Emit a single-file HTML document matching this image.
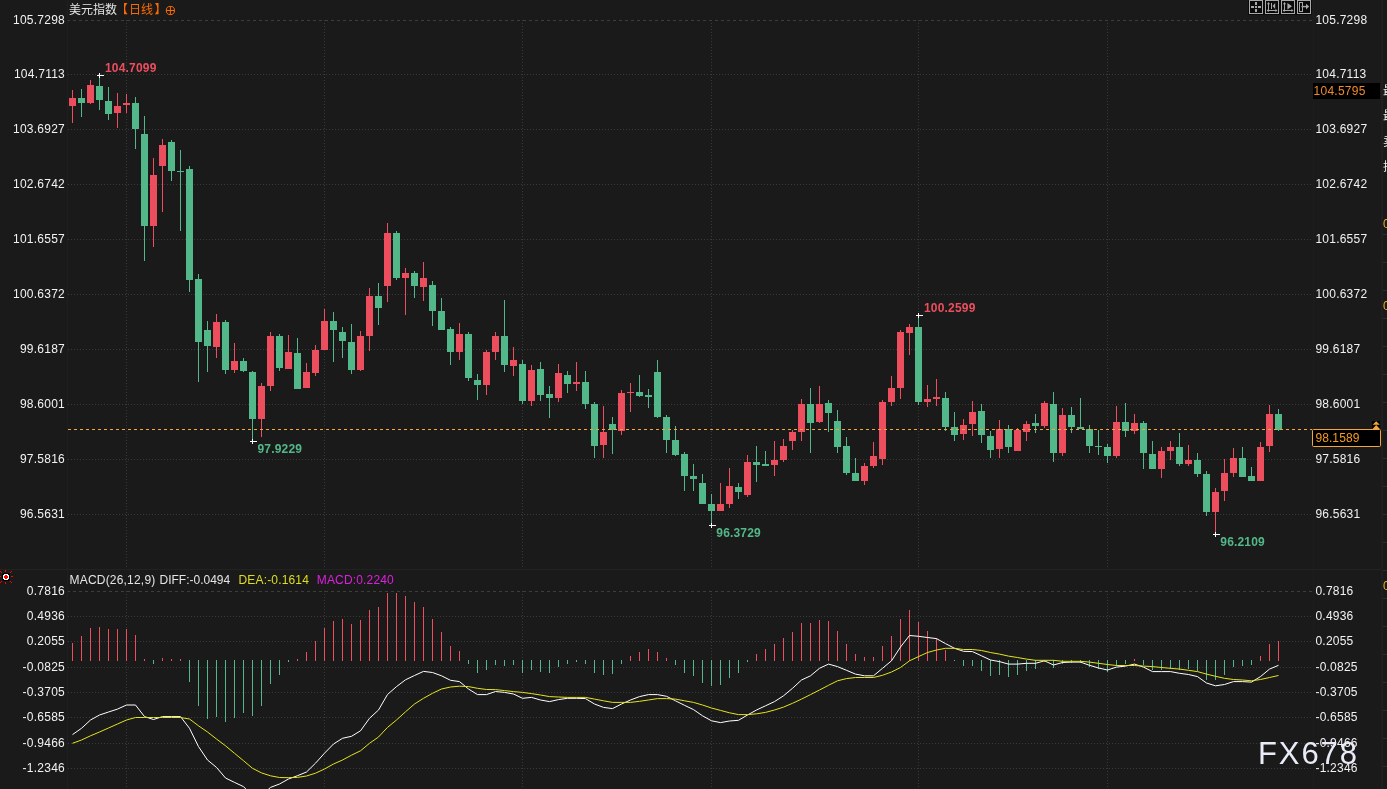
<!DOCTYPE html>
<html lang="zh"><head><meta charset="utf-8"><title>美元指数 日线</title>
<style>
html,body{margin:0;padding:0;background:#1a1a1a;}
body{width:1387px;height:789px;overflow:hidden;position:relative;font-family:"Liberation Sans","Noto Sans CJK SC",sans-serif;}
svg{position:absolute;left:0;top:0;display:block}
text{font-family:"Liberation Sans","Noto Sans CJK SC",sans-serif;font-size:12px}
.ax{fill:#f2f2f2;letter-spacing:0.24px}
.b{font-weight:bold;letter-spacing:0.18px}
.h{letter-spacing:0.16px}
</style></head><body>
<svg width="1387" height="789" viewBox="0 0 1387 789">
<rect width="1387" height="789" fill="#1a1a1a"/>

<g shape-rendering="crispEdges">
<rect x="67" y="0" width="1" height="789" fill="#1f1f1f"/>
<rect x="1313" y="0" width="1" height="789" fill="#1d1d1d"/>
<rect x="0" y="569" width="1382" height="1" fill="#222222"/>
<rect x="1381" y="0" width="2" height="789" fill="#1f1f1f"/>
<rect x="1383" y="170" width="4" height="1" fill="#2c2c2c"/>
<rect x="1383" y="234" width="4" height="1" fill="#2c2c2c"/>
<rect x="1383" y="262" width="4" height="1" fill="#2c2c2c"/>
<rect x="1383" y="290" width="4" height="1" fill="#2c2c2c"/>
<rect x="1383" y="318" width="4" height="1" fill="#2c2c2c"/>
<rect x="1383" y="346" width="4" height="1" fill="#2c2c2c"/>
<rect x="1383" y="374" width="4" height="1" fill="#2c2c2c"/>
<rect x="1383" y="402" width="4" height="1" fill="#2c2c2c"/>
<rect x="1383" y="430" width="4" height="1" fill="#2c2c2c"/>
<rect x="1383" y="458" width="4" height="1" fill="#2c2c2c"/>
<rect x="1383" y="486" width="4" height="1" fill="#2c2c2c"/>
<rect x="1383" y="514" width="4" height="1" fill="#2c2c2c"/>
<rect x="1383" y="542" width="4" height="1" fill="#2c2c2c"/>
<rect x="1383" y="570" width="4" height="1" fill="#2c2c2c"/>
<rect x="1383" y="598" width="4" height="1" fill="#2c2c2c"/>
<rect x="1383" y="626" width="4" height="1" fill="#2c2c2c"/>
<rect x="1383" y="654" width="4" height="1" fill="#2c2c2c"/>
<rect x="1383" y="682" width="4" height="1" fill="#2c2c2c"/>
<rect x="1383" y="710" width="4" height="1" fill="#2c2c2c"/>
<rect x="1383" y="738" width="4" height="1" fill="#2c2c2c"/>
<rect x="1383" y="766" width="4" height="1" fill="#2c2c2c"/>
</g>
<g stroke="#393939" stroke-width="1" shape-rendering="crispEdges" fill="none">
<line x1="68" x2="1312" y1="74.5" y2="74.5" stroke-dasharray="1 2"/>
<line x1="68" x2="1312" y1="129.5" y2="129.5" stroke-dasharray="1 2"/>
<line x1="68" x2="1312" y1="184.5" y2="184.5" stroke-dasharray="1 2"/>
<line x1="68" x2="1312" y1="239.5" y2="239.5" stroke-dasharray="1 2"/>
<line x1="68" x2="1312" y1="294.5" y2="294.5" stroke-dasharray="1 2"/>
<line x1="68" x2="1312" y1="349.5" y2="349.5" stroke-dasharray="1 2"/>
<line x1="68" x2="1312" y1="404.5" y2="404.5" stroke-dasharray="1 2"/>
<line x1="68" x2="1312" y1="459.5" y2="459.5" stroke-dasharray="1 2"/>
<line x1="68" x2="1312" y1="514.5" y2="514.5" stroke-dasharray="1 2"/>
<line x1="68" x2="1312" y1="616.5" y2="616.5" stroke-dasharray="1 2"/>
<line x1="68" x2="1312" y1="641.5" y2="641.5" stroke-dasharray="1 2"/>
<line x1="68" x2="1312" y1="667.5" y2="667.5" stroke-dasharray="1 2"/>
<line x1="68" x2="1312" y1="692.5" y2="692.5" stroke-dasharray="1 2"/>
<line x1="68" x2="1312" y1="717.5" y2="717.5" stroke-dasharray="1 2"/>
<line x1="68" x2="1312" y1="743.5" y2="743.5" stroke-dasharray="1 2"/>
<line x1="68" x2="1312" y1="768.5" y2="768.5" stroke-dasharray="1 2"/>
<line x1="126.5" x2="126.5" y1="20" y2="568" stroke-dasharray="1 2"/>
<line x1="126.5" x2="126.5" y1="591" y2="789" stroke-dasharray="1 2"/>
<line x1="324.5" x2="324.5" y1="20" y2="568" stroke-dasharray="1 2"/>
<line x1="324.5" x2="324.5" y1="591" y2="789" stroke-dasharray="1 2"/>
<line x1="522.5" x2="522.5" y1="20" y2="568" stroke-dasharray="1 2"/>
<line x1="522.5" x2="522.5" y1="591" y2="789" stroke-dasharray="1 2"/>
<line x1="711.5" x2="711.5" y1="20" y2="568" stroke-dasharray="1 2"/>
<line x1="711.5" x2="711.5" y1="591" y2="789" stroke-dasharray="1 2"/>
<line x1="918.5" x2="918.5" y1="20" y2="568" stroke-dasharray="1 2"/>
<line x1="918.5" x2="918.5" y1="591" y2="789" stroke-dasharray="1 2"/>
<line x1="1107.5" x2="1107.5" y1="20" y2="568" stroke-dasharray="1 2"/>
<line x1="1107.5" x2="1107.5" y1="591" y2="789" stroke-dasharray="1 2"/>
</g>
<g stroke="#3d3d3d" stroke-width="1" fill="none" shape-rendering="crispEdges">
<line x1="68" x2="1312" y1="20.5" y2="20.5" stroke-dasharray="3 3" stroke-dashoffset="1"/>
<line x1="68" x2="1312" y1="591.5" y2="591.5" stroke-dasharray="3 3" stroke-dashoffset="1"/>
</g>
<g shape-rendering="crispEdges">
<rect x="72" y="90" width="1" height="33" fill="#ec4e5e"/><rect x="69" y="98" width="7" height="8" fill="#ec4e5e"/>
<rect x="81" y="89" width="1" height="28" fill="#53b889"/><rect x="78" y="98" width="7" height="5" fill="#53b889"/>
<rect x="90" y="80" width="1" height="24" fill="#ec4e5e"/><rect x="87" y="85" width="7" height="18" fill="#ec4e5e"/>
<rect x="99" y="75" width="1" height="35" fill="#53b889"/><rect x="96" y="86" width="7" height="14" fill="#53b889"/>
<rect x="108" y="87" width="1" height="33" fill="#53b889"/><rect x="105" y="101" width="7" height="13" fill="#53b889"/>
<rect x="117" y="93" width="1" height="35" fill="#ec4e5e"/><rect x="114" y="106" width="7" height="7" fill="#ec4e5e"/>
<rect x="126" y="94" width="1" height="19" fill="#ec4e5e"/><rect x="123" y="103" width="7" height="2" fill="#ec4e5e"/>
<rect x="135" y="97" width="1" height="52" fill="#53b889"/><rect x="132" y="103" width="7" height="26" fill="#53b889"/>
<rect x="144" y="116" width="1" height="145" fill="#53b889"/><rect x="141" y="134" width="7" height="92" fill="#53b889"/>
<rect x="153" y="158" width="1" height="89" fill="#ec4e5e"/><rect x="150" y="175" width="7" height="51" fill="#ec4e5e"/>
<rect x="162" y="139" width="1" height="73" fill="#ec4e5e"/><rect x="159" y="145" width="7" height="21" fill="#ec4e5e"/>
<rect x="171" y="140" width="1" height="41" fill="#53b889"/><rect x="168" y="142" width="7" height="29" fill="#53b889"/>
<rect x="180" y="150" width="1" height="81" fill="#53b889"/><rect x="177" y="171" width="7" height="1" fill="#53b889"/>
<rect x="189" y="166" width="1" height="126" fill="#53b889"/><rect x="186" y="169" width="7" height="111" fill="#53b889"/>
<rect x="198" y="274" width="1" height="108" fill="#53b889"/><rect x="195" y="279" width="7" height="63" fill="#53b889"/>
<rect x="207" y="321" width="1" height="51" fill="#53b889"/><rect x="204" y="330" width="7" height="16" fill="#53b889"/>
<rect x="216" y="314" width="1" height="44" fill="#ec4e5e"/><rect x="213" y="322" width="7" height="25" fill="#ec4e5e"/>
<rect x="225" y="320" width="1" height="54" fill="#53b889"/><rect x="222" y="322" width="7" height="48" fill="#53b889"/>
<rect x="234" y="343" width="1" height="30" fill="#ec4e5e"/><rect x="231" y="361" width="7" height="9" fill="#ec4e5e"/>
<rect x="243" y="358" width="1" height="14" fill="#53b889"/><rect x="240" y="361" width="7" height="10" fill="#53b889"/>
<rect x="252" y="371" width="1" height="70" fill="#53b889"/><rect x="249" y="372" width="7" height="47" fill="#53b889"/>
<rect x="261" y="383" width="1" height="54" fill="#ec4e5e"/><rect x="258" y="386" width="7" height="33" fill="#ec4e5e"/>
<rect x="270" y="332" width="1" height="59" fill="#ec4e5e"/><rect x="267" y="336" width="7" height="50" fill="#ec4e5e"/>
<rect x="279" y="334" width="1" height="37" fill="#53b889"/><rect x="276" y="336" width="7" height="32" fill="#53b889"/>
<rect x="288" y="335" width="1" height="34" fill="#ec4e5e"/><rect x="285" y="352" width="7" height="17" fill="#ec4e5e"/>
<rect x="297" y="338" width="1" height="51" fill="#53b889"/><rect x="294" y="353" width="7" height="36" fill="#53b889"/>
<rect x="306" y="363" width="1" height="25" fill="#ec4e5e"/><rect x="303" y="372" width="7" height="16" fill="#ec4e5e"/>
<rect x="315" y="345" width="1" height="31" fill="#ec4e5e"/><rect x="312" y="350" width="7" height="23" fill="#ec4e5e"/>
<rect x="324" y="309" width="1" height="41" fill="#ec4e5e"/><rect x="321" y="321" width="7" height="29" fill="#ec4e5e"/>
<rect x="333" y="312" width="1" height="50" fill="#53b889"/><rect x="330" y="321" width="7" height="9" fill="#53b889"/>
<rect x="342" y="327" width="1" height="31" fill="#53b889"/><rect x="339" y="332" width="7" height="9" fill="#53b889"/>
<rect x="351" y="324" width="1" height="50" fill="#53b889"/><rect x="348" y="342" width="7" height="28" fill="#53b889"/>
<rect x="360" y="331" width="1" height="40" fill="#ec4e5e"/><rect x="357" y="336" width="7" height="34" fill="#ec4e5e"/>
<rect x="369" y="288" width="1" height="63" fill="#ec4e5e"/><rect x="366" y="296" width="7" height="40" fill="#ec4e5e"/>
<rect x="378" y="283" width="1" height="42" fill="#53b889"/><rect x="375" y="296" width="7" height="12" fill="#53b889"/>
<rect x="387" y="223" width="1" height="79" fill="#ec4e5e"/><rect x="384" y="233" width="7" height="53" fill="#ec4e5e"/>
<rect x="396" y="231" width="1" height="49" fill="#53b889"/><rect x="393" y="233" width="7" height="45" fill="#53b889"/>
<rect x="405" y="268" width="1" height="47" fill="#ec4e5e"/><rect x="402" y="273" width="7" height="5" fill="#ec4e5e"/>
<rect x="414" y="271" width="1" height="27" fill="#53b889"/><rect x="411" y="273" width="7" height="13" fill="#53b889"/>
<rect x="423" y="262" width="1" height="39" fill="#ec4e5e"/><rect x="420" y="278" width="7" height="9" fill="#ec4e5e"/>
<rect x="432" y="281" width="1" height="45" fill="#53b889"/><rect x="429" y="285" width="7" height="26" fill="#53b889"/>
<rect x="441" y="298" width="1" height="32" fill="#53b889"/><rect x="438" y="311" width="7" height="19" fill="#53b889"/>
<rect x="450" y="327" width="1" height="38" fill="#53b889"/><rect x="447" y="329" width="7" height="23" fill="#53b889"/>
<rect x="459" y="323" width="1" height="37" fill="#ec4e5e"/><rect x="456" y="334" width="7" height="18" fill="#ec4e5e"/>
<rect x="468" y="332" width="1" height="49" fill="#53b889"/><rect x="465" y="334" width="7" height="44" fill="#53b889"/>
<rect x="477" y="374" width="1" height="26" fill="#53b889"/><rect x="474" y="380" width="7" height="5" fill="#53b889"/>
<rect x="486" y="350" width="1" height="45" fill="#ec4e5e"/><rect x="483" y="352" width="7" height="33" fill="#ec4e5e"/>
<rect x="495" y="332" width="1" height="28" fill="#ec4e5e"/><rect x="492" y="336" width="7" height="16" fill="#ec4e5e"/>
<rect x="504" y="300" width="1" height="72" fill="#53b889"/><rect x="501" y="336" width="7" height="29" fill="#53b889"/>
<rect x="513" y="347" width="1" height="29" fill="#ec4e5e"/><rect x="510" y="360" width="7" height="6" fill="#ec4e5e"/>
<rect x="522" y="360" width="1" height="44" fill="#53b889"/><rect x="519" y="364" width="7" height="37" fill="#53b889"/>
<rect x="531" y="365" width="1" height="41" fill="#ec4e5e"/><rect x="528" y="370" width="7" height="31" fill="#ec4e5e"/>
<rect x="540" y="362" width="1" height="39" fill="#53b889"/><rect x="537" y="369" width="7" height="26" fill="#53b889"/>
<rect x="549" y="386" width="1" height="32" fill="#53b889"/><rect x="546" y="394" width="7" height="4" fill="#53b889"/>
<rect x="558" y="364" width="1" height="38" fill="#ec4e5e"/><rect x="555" y="373" width="7" height="25" fill="#ec4e5e"/>
<rect x="567" y="371" width="1" height="22" fill="#53b889"/><rect x="564" y="375" width="7" height="9" fill="#53b889"/>
<rect x="576" y="362" width="1" height="29" fill="#ec4e5e"/><rect x="573" y="382" width="7" height="2" fill="#ec4e5e"/>
<rect x="585" y="371" width="1" height="38" fill="#53b889"/><rect x="582" y="382" width="7" height="22" fill="#53b889"/>
<rect x="594" y="402" width="1" height="56" fill="#53b889"/><rect x="591" y="404" width="7" height="42" fill="#53b889"/>
<rect x="603" y="406" width="1" height="52" fill="#ec4e5e"/><rect x="600" y="432" width="7" height="13" fill="#ec4e5e"/>
<rect x="612" y="417" width="1" height="37" fill="#53b889"/><rect x="609" y="424" width="7" height="6" fill="#53b889"/>
<rect x="621" y="390" width="1" height="45" fill="#ec4e5e"/><rect x="618" y="393" width="7" height="38" fill="#ec4e5e"/>
<rect x="630" y="383" width="1" height="29" fill="#ec4e5e"/><rect x="627" y="392" width="7" height="1" fill="#ec4e5e"/>
<rect x="639" y="375" width="1" height="22" fill="#53b889"/><rect x="636" y="392" width="7" height="4" fill="#53b889"/>
<rect x="648" y="389" width="1" height="19" fill="#53b889"/><rect x="645" y="395" width="7" height="2" fill="#53b889"/>
<rect x="657" y="360" width="1" height="58" fill="#53b889"/><rect x="654" y="372" width="7" height="45" fill="#53b889"/>
<rect x="666" y="415" width="1" height="38" fill="#53b889"/><rect x="663" y="417" width="7" height="23" fill="#53b889"/>
<rect x="675" y="426" width="1" height="30" fill="#53b889"/><rect x="672" y="440" width="7" height="15" fill="#53b889"/>
<rect x="684" y="452" width="1" height="39" fill="#53b889"/><rect x="681" y="454" width="7" height="22" fill="#53b889"/>
<rect x="693" y="464" width="1" height="27" fill="#53b889"/><rect x="690" y="476" width="7" height="3" fill="#53b889"/>
<rect x="702" y="474" width="1" height="30" fill="#53b889"/><rect x="699" y="483" width="7" height="21" fill="#53b889"/>
<rect x="711" y="494" width="1" height="31" fill="#53b889"/><rect x="708" y="504" width="7" height="7" fill="#53b889"/>
<rect x="720" y="483" width="1" height="28" fill="#ec4e5e"/><rect x="717" y="504" width="7" height="7" fill="#ec4e5e"/>
<rect x="729" y="468" width="1" height="40" fill="#ec4e5e"/><rect x="726" y="486" width="7" height="18" fill="#ec4e5e"/>
<rect x="738" y="483" width="1" height="16" fill="#53b889"/><rect x="735" y="487" width="7" height="5" fill="#53b889"/>
<rect x="747" y="455" width="1" height="42" fill="#ec4e5e"/><rect x="744" y="462" width="7" height="33" fill="#ec4e5e"/>
<rect x="756" y="446" width="1" height="36" fill="#53b889"/><rect x="753" y="462" width="7" height="3" fill="#53b889"/>
<rect x="765" y="451" width="1" height="15" fill="#53b889"/><rect x="762" y="464" width="7" height="2" fill="#53b889"/>
<rect x="774" y="441" width="1" height="35" fill="#ec4e5e"/><rect x="771" y="460" width="7" height="5" fill="#ec4e5e"/>
<rect x="783" y="439" width="1" height="23" fill="#ec4e5e"/><rect x="780" y="446" width="7" height="14" fill="#ec4e5e"/>
<rect x="792" y="430" width="1" height="20" fill="#ec4e5e"/><rect x="789" y="432" width="7" height="9" fill="#ec4e5e"/>
<rect x="801" y="399" width="1" height="42" fill="#ec4e5e"/><rect x="798" y="404" width="7" height="28" fill="#ec4e5e"/>
<rect x="810" y="388" width="1" height="65" fill="#53b889"/><rect x="807" y="404" width="7" height="19" fill="#53b889"/>
<rect x="819" y="386" width="1" height="37" fill="#ec4e5e"/><rect x="816" y="404" width="7" height="18" fill="#ec4e5e"/>
<rect x="828" y="400" width="1" height="32" fill="#53b889"/><rect x="825" y="403" width="7" height="10" fill="#53b889"/>
<rect x="837" y="410" width="1" height="43" fill="#53b889"/><rect x="834" y="421" width="7" height="26" fill="#53b889"/>
<rect x="846" y="437" width="1" height="38" fill="#53b889"/><rect x="843" y="446" width="7" height="27" fill="#53b889"/>
<rect x="855" y="458" width="1" height="23" fill="#53b889"/><rect x="852" y="473" width="7" height="8" fill="#53b889"/>
<rect x="864" y="463" width="1" height="22" fill="#ec4e5e"/><rect x="861" y="466" width="7" height="15" fill="#ec4e5e"/>
<rect x="873" y="442" width="1" height="26" fill="#ec4e5e"/><rect x="870" y="456" width="7" height="10" fill="#ec4e5e"/>
<rect x="882" y="400" width="1" height="65" fill="#ec4e5e"/><rect x="879" y="402" width="7" height="57" fill="#ec4e5e"/>
<rect x="891" y="376" width="1" height="30" fill="#ec4e5e"/><rect x="888" y="388" width="7" height="14" fill="#ec4e5e"/>
<rect x="900" y="330" width="1" height="69" fill="#ec4e5e"/><rect x="897" y="332" width="7" height="56" fill="#ec4e5e"/>
<rect x="909" y="324" width="1" height="31" fill="#ec4e5e"/><rect x="906" y="327" width="7" height="6" fill="#ec4e5e"/>
<rect x="918" y="315" width="1" height="90" fill="#53b889"/><rect x="915" y="327" width="7" height="75" fill="#53b889"/>
<rect x="927" y="385" width="1" height="22" fill="#ec4e5e"/><rect x="924" y="399" width="7" height="3" fill="#ec4e5e"/>
<rect x="936" y="379" width="1" height="27" fill="#ec4e5e"/><rect x="933" y="397" width="7" height="2" fill="#ec4e5e"/>
<rect x="945" y="392" width="1" height="39" fill="#53b889"/><rect x="942" y="398" width="7" height="29" fill="#53b889"/>
<rect x="954" y="412" width="1" height="29" fill="#53b889"/><rect x="951" y="427" width="7" height="8" fill="#53b889"/>
<rect x="963" y="419" width="1" height="21" fill="#ec4e5e"/><rect x="960" y="425" width="7" height="9" fill="#ec4e5e"/>
<rect x="972" y="401" width="1" height="35" fill="#ec4e5e"/><rect x="969" y="412" width="7" height="12" fill="#ec4e5e"/>
<rect x="981" y="404" width="1" height="39" fill="#53b889"/><rect x="978" y="411" width="7" height="24" fill="#53b889"/>
<rect x="990" y="431" width="1" height="27" fill="#53b889"/><rect x="987" y="436" width="7" height="14" fill="#53b889"/>
<rect x="999" y="420" width="1" height="38" fill="#ec4e5e"/><rect x="996" y="429" width="7" height="20" fill="#ec4e5e"/>
<rect x="1008" y="425" width="1" height="28" fill="#53b889"/><rect x="1005" y="429" width="7" height="18" fill="#53b889"/>
<rect x="1017" y="428" width="1" height="23" fill="#ec4e5e"/><rect x="1014" y="430" width="7" height="21" fill="#ec4e5e"/>
<rect x="1026" y="421" width="1" height="20" fill="#ec4e5e"/><rect x="1023" y="424" width="7" height="8" fill="#ec4e5e"/>
<rect x="1035" y="414" width="1" height="19" fill="#53b889"/><rect x="1032" y="423" width="7" height="3" fill="#53b889"/>
<rect x="1044" y="401" width="1" height="27" fill="#ec4e5e"/><rect x="1041" y="403" width="7" height="23" fill="#ec4e5e"/>
<rect x="1053" y="392" width="1" height="70" fill="#53b889"/><rect x="1050" y="404" width="7" height="49" fill="#53b889"/>
<rect x="1062" y="408" width="1" height="48" fill="#ec4e5e"/><rect x="1059" y="415" width="7" height="38" fill="#ec4e5e"/>
<rect x="1071" y="407" width="1" height="26" fill="#53b889"/><rect x="1068" y="415" width="7" height="12" fill="#53b889"/>
<rect x="1080" y="398" width="1" height="31" fill="#53b889"/><rect x="1077" y="427" width="7" height="2" fill="#53b889"/>
<rect x="1089" y="425" width="1" height="28" fill="#53b889"/><rect x="1086" y="429" width="7" height="17" fill="#53b889"/>
<rect x="1098" y="430" width="1" height="25" fill="#53b889"/><rect x="1095" y="446" width="7" height="1" fill="#53b889"/>
<rect x="1107" y="444" width="1" height="19" fill="#53b889"/><rect x="1104" y="447" width="7" height="9" fill="#53b889"/>
<rect x="1116" y="406" width="1" height="52" fill="#ec4e5e"/><rect x="1113" y="422" width="7" height="34" fill="#ec4e5e"/>
<rect x="1125" y="403" width="1" height="34" fill="#53b889"/><rect x="1122" y="422" width="7" height="9" fill="#53b889"/>
<rect x="1134" y="414" width="1" height="20" fill="#ec4e5e"/><rect x="1131" y="423" width="7" height="8" fill="#ec4e5e"/>
<rect x="1143" y="421" width="1" height="48" fill="#53b889"/><rect x="1140" y="423" width="7" height="30" fill="#53b889"/>
<rect x="1152" y="441" width="1" height="28" fill="#53b889"/><rect x="1149" y="454" width="7" height="15" fill="#53b889"/>
<rect x="1161" y="447" width="1" height="31" fill="#ec4e5e"/><rect x="1158" y="451" width="7" height="18" fill="#ec4e5e"/>
<rect x="1170" y="441" width="1" height="19" fill="#ec4e5e"/><rect x="1167" y="447" width="7" height="4" fill="#ec4e5e"/>
<rect x="1179" y="433" width="1" height="33" fill="#53b889"/><rect x="1176" y="447" width="7" height="17" fill="#53b889"/>
<rect x="1188" y="445" width="1" height="21" fill="#ec4e5e"/><rect x="1185" y="460" width="7" height="4" fill="#ec4e5e"/>
<rect x="1197" y="453" width="1" height="24" fill="#53b889"/><rect x="1194" y="460" width="7" height="14" fill="#53b889"/>
<rect x="1206" y="471" width="1" height="45" fill="#53b889"/><rect x="1203" y="474" width="7" height="38" fill="#53b889"/>
<rect x="1215" y="488" width="1" height="46" fill="#ec4e5e"/><rect x="1212" y="492" width="7" height="20" fill="#ec4e5e"/>
<rect x="1224" y="459" width="1" height="42" fill="#ec4e5e"/><rect x="1221" y="473" width="7" height="18" fill="#ec4e5e"/>
<rect x="1233" y="448" width="1" height="29" fill="#ec4e5e"/><rect x="1230" y="458" width="7" height="15" fill="#ec4e5e"/>
<rect x="1242" y="447" width="1" height="30" fill="#53b889"/><rect x="1239" y="458" width="7" height="19" fill="#53b889"/>
<rect x="1251" y="467" width="1" height="14" fill="#53b889"/><rect x="1248" y="476" width="7" height="5" fill="#53b889"/>
<rect x="1260" y="442" width="1" height="39" fill="#ec4e5e"/><rect x="1257" y="447" width="7" height="34" fill="#ec4e5e"/>
<rect x="1269" y="405" width="1" height="47" fill="#ec4e5e"/><rect x="1266" y="414" width="7" height="32" fill="#ec4e5e"/>
<rect x="1278" y="409" width="1" height="22" fill="#53b889"/><rect x="1275" y="414" width="7" height="16" fill="#53b889"/>
</g>
<line x1="68" x2="1312" y1="429.5" y2="429.5" stroke="#f4a63a" stroke-width="1" stroke-dasharray="3 3" shape-rendering="crispEdges"/>
<g shape-rendering="crispEdges">
<rect x="72" y="643" width="1" height="18" fill="#ec4e5e"/>
<rect x="81" y="636" width="1" height="25" fill="#ec4e5e"/>
<rect x="90" y="628" width="1" height="33" fill="#ec4e5e"/>
<rect x="99" y="627" width="1" height="34" fill="#ec4e5e"/>
<rect x="108" y="629" width="1" height="32" fill="#ec4e5e"/>
<rect x="117" y="629" width="1" height="32" fill="#ec4e5e"/>
<rect x="126" y="629" width="1" height="32" fill="#ec4e5e"/>
<rect x="135" y="635" width="1" height="26" fill="#ec4e5e"/>
<rect x="144" y="659" width="1" height="2" fill="#ec4e5e"/>
<rect x="153" y="660" width="1" height="4" fill="#53b889"/>
<rect x="162" y="658" width="1" height="3" fill="#ec4e5e"/>
<rect x="171" y="659" width="1" height="2" fill="#ec4e5e"/>
<rect x="180" y="659" width="1" height="2" fill="#ec4e5e"/>
<rect x="189" y="660" width="1" height="22" fill="#53b889"/>
<rect x="198" y="660" width="1" height="46" fill="#53b889"/>
<rect x="207" y="660" width="1" height="59" fill="#53b889"/>
<rect x="216" y="660" width="1" height="57" fill="#53b889"/>
<rect x="225" y="660" width="1" height="62" fill="#53b889"/>
<rect x="234" y="660" width="1" height="58" fill="#53b889"/>
<rect x="243" y="660" width="1" height="53" fill="#53b889"/>
<rect x="252" y="660" width="1" height="56" fill="#53b889"/>
<rect x="261" y="660" width="1" height="46" fill="#53b889"/>
<rect x="270" y="660" width="1" height="24" fill="#53b889"/>
<rect x="279" y="660" width="1" height="15" fill="#53b889"/>
<rect x="288" y="660" width="1" height="2" fill="#53b889"/>
<rect x="297" y="659" width="1" height="2" fill="#ec4e5e"/>
<rect x="306" y="652" width="1" height="9" fill="#ec4e5e"/>
<rect x="315" y="641" width="1" height="20" fill="#ec4e5e"/>
<rect x="324" y="628" width="1" height="33" fill="#ec4e5e"/>
<rect x="333" y="621" width="1" height="40" fill="#ec4e5e"/>
<rect x="342" y="619" width="1" height="42" fill="#ec4e5e"/>
<rect x="351" y="624" width="1" height="37" fill="#ec4e5e"/>
<rect x="360" y="620" width="1" height="41" fill="#ec4e5e"/>
<rect x="369" y="610" width="1" height="51" fill="#ec4e5e"/>
<rect x="378" y="607" width="1" height="54" fill="#ec4e5e"/>
<rect x="387" y="593" width="1" height="68" fill="#ec4e5e"/>
<rect x="396" y="593" width="1" height="68" fill="#ec4e5e"/>
<rect x="405" y="596" width="1" height="65" fill="#ec4e5e"/>
<rect x="414" y="602" width="1" height="59" fill="#ec4e5e"/>
<rect x="423" y="607" width="1" height="54" fill="#ec4e5e"/>
<rect x="432" y="619" width="1" height="42" fill="#ec4e5e"/>
<rect x="441" y="632" width="1" height="29" fill="#ec4e5e"/>
<rect x="450" y="646" width="1" height="15" fill="#ec4e5e"/>
<rect x="459" y="651" width="1" height="10" fill="#ec4e5e"/>
<rect x="468" y="660" width="1" height="4" fill="#53b889"/>
<rect x="477" y="660" width="1" height="13" fill="#53b889"/>
<rect x="486" y="660" width="1" height="10" fill="#53b889"/>
<rect x="495" y="660" width="1" height="5" fill="#53b889"/>
<rect x="504" y="660" width="1" height="6" fill="#53b889"/>
<rect x="513" y="660" width="1" height="5" fill="#53b889"/>
<rect x="522" y="660" width="1" height="13" fill="#53b889"/>
<rect x="531" y="660" width="1" height="10" fill="#53b889"/>
<rect x="540" y="660" width="1" height="12" fill="#53b889"/>
<rect x="549" y="660" width="1" height="13" fill="#53b889"/>
<rect x="558" y="660" width="1" height="7" fill="#53b889"/>
<rect x="567" y="660" width="1" height="4" fill="#53b889"/>
<rect x="576" y="660" width="1" height="2" fill="#53b889"/>
<rect x="585" y="660" width="1" height="4" fill="#53b889"/>
<rect x="594" y="660" width="1" height="13" fill="#53b889"/>
<rect x="603" y="660" width="1" height="15" fill="#53b889"/>
<rect x="612" y="660" width="1" height="14" fill="#53b889"/>
<rect x="621" y="660" width="1" height="4" fill="#53b889"/>
<rect x="630" y="656" width="1" height="5" fill="#ec4e5e"/>
<rect x="639" y="652" width="1" height="9" fill="#ec4e5e"/>
<rect x="648" y="649" width="1" height="12" fill="#ec4e5e"/>
<rect x="657" y="652" width="1" height="9" fill="#ec4e5e"/>
<rect x="666" y="658" width="1" height="3" fill="#ec4e5e"/>
<rect x="675" y="660" width="1" height="5" fill="#53b889"/>
<rect x="684" y="660" width="1" height="13" fill="#53b889"/>
<rect x="693" y="660" width="1" height="16" fill="#53b889"/>
<rect x="702" y="660" width="1" height="23" fill="#53b889"/>
<rect x="711" y="660" width="1" height="26" fill="#53b889"/>
<rect x="720" y="660" width="1" height="25" fill="#53b889"/>
<rect x="729" y="660" width="1" height="18" fill="#53b889"/>
<rect x="738" y="660" width="1" height="13" fill="#53b889"/>
<rect x="747" y="660" width="1" height="2" fill="#53b889"/>
<rect x="756" y="654" width="1" height="7" fill="#ec4e5e"/>
<rect x="765" y="649" width="1" height="12" fill="#ec4e5e"/>
<rect x="774" y="644" width="1" height="17" fill="#ec4e5e"/>
<rect x="783" y="638" width="1" height="23" fill="#ec4e5e"/>
<rect x="792" y="632" width="1" height="29" fill="#ec4e5e"/>
<rect x="801" y="623" width="1" height="38" fill="#ec4e5e"/>
<rect x="810" y="623" width="1" height="38" fill="#ec4e5e"/>
<rect x="819" y="620" width="1" height="41" fill="#ec4e5e"/>
<rect x="828" y="621" width="1" height="40" fill="#ec4e5e"/>
<rect x="837" y="631" width="1" height="30" fill="#ec4e5e"/>
<rect x="846" y="644" width="1" height="17" fill="#ec4e5e"/>
<rect x="855" y="654" width="1" height="7" fill="#ec4e5e"/>
<rect x="864" y="657" width="1" height="4" fill="#ec4e5e"/>
<rect x="873" y="657" width="1" height="4" fill="#ec4e5e"/>
<rect x="882" y="646" width="1" height="15" fill="#ec4e5e"/>
<rect x="891" y="636" width="1" height="25" fill="#ec4e5e"/>
<rect x="900" y="619" width="1" height="42" fill="#ec4e5e"/>
<rect x="909" y="610" width="1" height="51" fill="#ec4e5e"/>
<rect x="918" y="622" width="1" height="39" fill="#ec4e5e"/>
<rect x="927" y="631" width="1" height="30" fill="#ec4e5e"/>
<rect x="936" y="638" width="1" height="23" fill="#ec4e5e"/>
<rect x="945" y="650" width="1" height="11" fill="#ec4e5e"/>
<rect x="954" y="660" width="1" height="1" fill="#53b889"/>
<rect x="963" y="660" width="1" height="6" fill="#53b889"/>
<rect x="972" y="660" width="1" height="6" fill="#53b889"/>
<rect x="981" y="660" width="1" height="11" fill="#53b889"/>
<rect x="990" y="660" width="1" height="16" fill="#53b889"/>
<rect x="999" y="660" width="1" height="15" fill="#53b889"/>
<rect x="1008" y="660" width="1" height="17" fill="#53b889"/>
<rect x="1017" y="660" width="1" height="15" fill="#53b889"/>
<rect x="1026" y="660" width="1" height="11" fill="#53b889"/>
<rect x="1035" y="660" width="1" height="9" fill="#53b889"/>
<rect x="1044" y="660" width="1" height="2" fill="#53b889"/>
<rect x="1053" y="660" width="1" height="8" fill="#53b889"/>
<rect x="1062" y="660" width="1" height="4" fill="#53b889"/>
<rect x="1071" y="660" width="1" height="3" fill="#53b889"/>
<rect x="1080" y="660" width="1" height="3" fill="#53b889"/>
<rect x="1089" y="660" width="1" height="7" fill="#53b889"/>
<rect x="1098" y="660" width="1" height="9" fill="#53b889"/>
<rect x="1107" y="660" width="1" height="12" fill="#53b889"/>
<rect x="1116" y="660" width="1" height="6" fill="#53b889"/>
<rect x="1125" y="660" width="1" height="4" fill="#53b889"/>
<rect x="1134" y="659" width="1" height="2" fill="#ec4e5e"/>
<rect x="1143" y="660" width="1" height="5" fill="#53b889"/>
<rect x="1152" y="660" width="1" height="10" fill="#53b889"/>
<rect x="1161" y="660" width="1" height="10" fill="#53b889"/>
<rect x="1170" y="660" width="1" height="9" fill="#53b889"/>
<rect x="1179" y="660" width="1" height="10" fill="#53b889"/>
<rect x="1188" y="660" width="1" height="9" fill="#53b889"/>
<rect x="1197" y="660" width="1" height="11" fill="#53b889"/>
<rect x="1206" y="660" width="1" height="20" fill="#53b889"/>
<rect x="1215" y="660" width="1" height="20" fill="#53b889"/>
<rect x="1224" y="660" width="1" height="15" fill="#53b889"/>
<rect x="1233" y="660" width="1" height="7" fill="#53b889"/>
<rect x="1242" y="660" width="1" height="6" fill="#53b889"/>
<rect x="1251" y="660" width="1" height="5" fill="#53b889"/>
<rect x="1260" y="656" width="1" height="5" fill="#ec4e5e"/>
<rect x="1269" y="644" width="1" height="17" fill="#ec4e5e"/>
<rect x="1278" y="641" width="1" height="20" fill="#ec4e5e"/>
</g>
<polyline points="72.5,734.6 81.5,728.3 90.5,720.0 99.5,715.0 108.5,712.0 117.5,709.1 126.5,705.0 135.5,705.0 144.5,716.6 153.5,719.5 162.5,716.6 171.5,716.6 180.5,716.6 189.5,728.3 198.5,746.6 207.5,760.0 216.5,767.4 225.5,778.0 234.5,782.4 243.5,786.6 252.5,796.0 261.5,795.6 270.5,787.4 279.5,784.0 288.5,779.0 297.5,775.7 306.5,772.0 315.5,763.2 324.5,753.2 333.5,744.0 342.5,738.3 351.5,736.3 360.5,730.8 369.5,718.3 378.5,710.0 387.5,694.5 396.5,686.6 405.5,679.8 414.5,675.5 423.5,671.4 432.5,672.5 441.5,675.8 450.5,680.3 459.5,681.6 468.5,689.0 477.5,694.6 486.5,694.6 495.5,691.5 504.5,692.4 513.5,694.0 522.5,698.3 531.5,697.4 540.5,700.0 549.5,701.6 558.5,699.6 567.5,698.3 576.5,698.3 585.5,698.6 594.5,704.0 603.5,707.4 612.5,708.6 621.5,704.0 630.5,700.0 639.5,696.6 648.5,694.6 657.5,694.6 666.5,696.3 675.5,700.8 684.5,705.3 693.5,709.6 702.5,715.8 711.5,720.8 720.5,722.6 729.5,721.0 738.5,720.3 747.5,715.0 756.5,710.0 765.5,705.8 774.5,701.6 783.5,695.8 792.5,688.3 801.5,680.0 810.5,675.8 819.5,668.3 828.5,664.1 837.5,666.6 846.5,670.3 855.5,674.1 864.5,675.8 873.5,675.8 882.5,668.3 891.5,660.8 900.5,647.0 909.5,635.5 918.5,636.3 927.5,637.5 936.5,638.6 945.5,643.6 954.5,648.3 963.5,651.3 972.5,651.6 981.5,655.8 990.5,660.0 999.5,661.6 1008.5,664.1 1017.5,664.1 1026.5,663.3 1035.5,663.3 1044.5,660.8 1053.5,665.0 1062.5,662.5 1071.5,662.1 1080.5,662.1 1089.5,665.3 1098.5,668.0 1107.5,670.0 1116.5,667.1 1125.5,666.1 1134.5,664.1 1143.5,667.1 1152.5,671.6 1161.5,671.6 1170.5,671.6 1179.5,673.3 1188.5,674.5 1197.5,676.6 1206.5,683.0 1215.5,685.8 1224.5,684.5 1233.5,681.6 1242.5,681.6 1251.5,682.1 1260.5,676.6 1269.5,669.1 1278.5,665.3" fill="none" stroke="#ffffff" stroke-width="1" stroke-linejoin="round"/>
<polyline points="72.5,743.3 81.5,740.0 90.5,735.8 99.5,732.0 108.5,728.0 117.5,724.0 126.5,720.0 135.5,717.5 144.5,717.5 153.5,717.5 162.5,717.5 171.5,717.5 180.5,717.5 189.5,719.0 198.5,725.8 207.5,732.0 216.5,739.0 225.5,745.8 234.5,753.3 243.5,760.7 252.5,768.3 261.5,772.9 270.5,775.8 279.5,777.5 288.5,777.7 297.5,777.4 306.5,776.0 315.5,773.2 324.5,769.0 333.5,764.0 342.5,760.0 351.5,755.2 360.5,750.8 369.5,743.3 378.5,737.0 387.5,727.4 396.5,720.0 405.5,711.8 414.5,704.0 423.5,698.3 432.5,693.3 441.5,689.0 450.5,687.0 459.5,686.2 468.5,686.6 477.5,688.3 486.5,689.5 495.5,689.6 504.5,690.6 513.5,691.6 522.5,692.4 531.5,693.6 540.5,695.0 549.5,696.6 558.5,697.0 567.5,697.4 576.5,697.4 585.5,697.4 594.5,699.1 603.5,700.8 612.5,702.4 621.5,702.4 630.5,702.4 639.5,701.3 648.5,700.0 657.5,698.6 666.5,698.6 675.5,699.1 684.5,700.8 693.5,702.4 702.5,705.0 711.5,708.0 720.5,710.4 729.5,712.8 738.5,714.6 747.5,714.6 756.5,713.8 765.5,712.4 774.5,710.0 783.5,707.1 792.5,703.3 801.5,699.1 810.5,694.6 819.5,690.0 828.5,685.3 837.5,680.8 846.5,678.6 855.5,677.5 864.5,677.5 873.5,677.5 882.5,675.3 891.5,672.0 900.5,667.5 909.5,660.8 918.5,656.6 927.5,652.5 936.5,650.0 945.5,648.3 954.5,648.3 963.5,649.5 972.5,649.5 981.5,650.5 990.5,652.5 999.5,654.1 1008.5,656.1 1017.5,657.5 1026.5,659.1 1035.5,660.3 1044.5,660.3 1053.5,660.3 1062.5,661.3 1071.5,661.3 1080.5,661.3 1089.5,662.1 1098.5,663.3 1107.5,664.5 1116.5,665.5 1125.5,665.5 1134.5,665.5 1143.5,666.1 1152.5,666.6 1161.5,667.5 1170.5,668.3 1179.5,669.1 1188.5,670.3 1197.5,671.6 1206.5,674.1 1215.5,676.3 1224.5,678.3 1233.5,679.5 1242.5,680.0 1251.5,680.8 1260.5,679.5 1269.5,677.5 1278.5,675.5" fill="none" stroke="#e4e41a" stroke-width="1" stroke-linejoin="round"/>
<g shape-rendering="crispEdges" fill="#ffffff"><rect x="97" y="75" width="7" height="1"/><rect x="99" y="73" width="1" height="5"/></g>
<g shape-rendering="crispEdges" fill="#ffffff"><rect x="250" y="441" width="7" height="1"/><rect x="252" y="439" width="1" height="5"/></g>
<g shape-rendering="crispEdges" fill="#ffffff"><rect x="709" y="525" width="7" height="1"/><rect x="711" y="523" width="1" height="5"/></g>
<g shape-rendering="crispEdges" fill="#ffffff"><rect x="916" y="315" width="7" height="1"/><rect x="918" y="313" width="1" height="5"/></g>
<g shape-rendering="crispEdges" fill="#ffffff"><rect x="1213" y="534" width="7" height="1"/><rect x="1215" y="532" width="1" height="5"/></g>
<text class="b" x="105" y="72" fill="#ec4e5e">104.7099</text>
<text class="b" x="924" y="312" fill="#ec4e5e">100.2599</text>
<text class="b" x="257.5" y="453.3" fill="#53b889">97.9229</text>
<text class="b" x="716.3" y="537.3" fill="#53b889">96.3729</text>
<text class="b" x="1220.3" y="546" fill="#53b889">96.2109</text>
<text class="ax" x="65" y="24" text-anchor="end">105.7298</text><text class="ax" x="1315.4" y="24">105.7298</text>
<text class="ax" x="65" y="78" text-anchor="end">104.7113</text><text class="ax" x="1315.4" y="78">104.7113</text>
<text class="ax" x="65" y="133" text-anchor="end">103.6927</text><text class="ax" x="1315.4" y="133">103.6927</text>
<text class="ax" x="65" y="188" text-anchor="end">102.6742</text><text class="ax" x="1315.4" y="188">102.6742</text>
<text class="ax" x="65" y="243" text-anchor="end">101.6557</text><text class="ax" x="1315.4" y="243">101.6557</text>
<text class="ax" x="65" y="298" text-anchor="end">100.6372</text><text class="ax" x="1315.4" y="298">100.6372</text>
<text class="ax" x="65" y="353" text-anchor="end">99.6187</text><text class="ax" x="1315.4" y="353">99.6187</text>
<text class="ax" x="65" y="408" text-anchor="end">98.6001</text><text class="ax" x="1315.4" y="408">98.6001</text>
<text class="ax" x="65" y="463" text-anchor="end">97.5816</text><text class="ax" x="1315.4" y="463">97.5816</text>
<text class="ax" x="65" y="518" text-anchor="end">96.5631</text><text class="ax" x="1315.4" y="518">96.5631</text>
<text class="ax" x="65" y="595" text-anchor="end">0.7816</text><text class="ax" x="1315.4" y="595">0.7816</text>
<text class="ax" x="65" y="620" text-anchor="end">0.4936</text><text class="ax" x="1315.4" y="620">0.4936</text>
<text class="ax" x="65" y="645" text-anchor="end">0.2055</text><text class="ax" x="1315.4" y="645">0.2055</text>
<text class="ax" x="65" y="671" text-anchor="end">-0.0825</text><text class="ax" x="1315.4" y="671">-0.0825</text>
<text class="ax" x="65" y="696" text-anchor="end">-0.3705</text><text class="ax" x="1315.4" y="696">-0.3705</text>
<text class="ax" x="65" y="721" text-anchor="end">-0.6585</text><text class="ax" x="1315.4" y="721">-0.6585</text>
<text class="ax" x="65" y="747" text-anchor="end">-0.9466</text><text class="ax" x="1315.4" y="747">-0.9466</text>
<text class="ax" x="65" y="772" text-anchor="end">-1.2346</text><text class="ax" x="1315.4" y="772">-1.2346</text>
<rect x="1313" y="83" width="67" height="16" fill="#000000" shape-rendering="crispEdges"/>
<text x="1313.6" y="95" fill="#f08a28" style="letter-spacing:0.24px">104.5795</text>
<rect x="1312.5" y="429.5" width="68" height="17" fill="#000000" stroke="#f4a63a" stroke-width="1" rx="1"/>
<text x="1315.4" y="442" fill="#f59a23" style="letter-spacing:0.1px">98.1589</text>
<rect x="1372" y="421" width="8" height="8" fill="#000"/><path d="M1376.2 421.2 L1379.8 424.8 L1372.6 424.8 Z M1376.2 425 L1379.9 429 L1372.5 429 Z" fill="#f4a63a"/>
<text x="69" y="13.6" fill="#e4e4e4">美元指数<tspan fill="#ff6a00" dx="-1">【</tspan><tspan fill="#ff6a00" dx="1">日线</tspan><tspan fill="#ff6a00" dx="1.4">】</tspan></text>
<g stroke="#ff6a00" stroke-width="1" fill="none"><circle cx="170.4" cy="10.5" r="4.1"/><path d="M166.2 10.5H174.6M170.4 6.3V14.7"/></g>
<text class="h" style="letter-spacing:0.2px" x="69.5" y="584" fill="#e4e4e4">MACD(26,12,9)</text>
<text x="159.5" y="584" fill="#e4e4e4">DIFF:-0.0494</text>
<text class="h" x="238.5" y="584" fill="#dede1e">DEA:-0.1614</text>
<text class="h" x="316.8" y="584" fill="#e01ee0">MACD:0.2240</text>
<g shape-rendering="crispEdges"><rect x="3" y="573" width="6" height="8" fill="#000"/><rect x="2" y="574" width="8" height="6" fill="#000"/><rect x="4" y="574" width="4" height="6" fill="#fff"/><rect x="3" y="575" width="6" height="4" fill="#fff"/><rect x="5" y="575" width="2" height="4" fill="#f00"/><rect x="4" y="576" width="4" height="2" fill="#f00"/><g fill="#f00"><rect x="5" y="570" width="1" height="2"/><rect x="5" y="582" width="1" height="2"/><rect x="11" y="576" width="2" height="1"/><rect x="0" y="576" width="1" height="1"/><rect x="10" y="572" width="1" height="1"/><rect x="11" y="571" width="1" height="1"/><rect x="10" y="581" width="1" height="1"/><rect x="11" y="582" width="1" height="1"/><rect x="1" y="572" width="1" height="1"/><rect x="0" y="571" width="1" height="1"/><rect x="1" y="581" width="1" height="1"/><rect x="0" y="582" width="1" height="1"/></g></g>
<g shape-rendering="crispEdges">
<rect x="1248" y="0" width="16" height="15" fill="#0c0c0c"/><rect x="1249.5" y="0.5" width="13" height="13" fill="#0a0a0a" stroke="#a8a8a8" stroke-width="1"/>
<rect x="1264" y="0" width="16" height="15" fill="#0c0c0c"/><rect x="1265.5" y="0.5" width="13" height="13" fill="#0a0a0a" stroke="#a8a8a8" stroke-width="1"/>
<rect x="1280" y="0" width="16" height="15" fill="#0c0c0c"/><rect x="1281.5" y="0.5" width="13" height="13" fill="#0a0a0a" stroke="#a8a8a8" stroke-width="1"/>
<rect x="1296" y="0" width="16" height="15" fill="#0c0c0c"/><rect x="1297.5" y="0.5" width="13" height="13" fill="#0a0a0a" stroke="#a8a8a8" stroke-width="1"/>
<g fill="#a8a8a8"><rect x="1255" y="2" width="2" height="3"/><rect x="1255" y="6" width="2" height="2"/><rect x="1255" y="9" width="2" height="3"/><rect x="1251" y="6" width="3" height="2"/><rect x="1258" y="6" width="3" height="2"/></g>
</g>
<g stroke="#a8a8a8" stroke-width="1" fill="#a8a8a8">
<path d="M1268.5 3V11.5M1267 10.5H1277" fill="none"/><path d="M1268.5 2l1.6 2.2h-3.2zM1277.6 10.5l-2.2 1.6v-3.2zM1266.6 10.5l1.6 -1.3v2.6z" stroke="none"/><path d="M1271.5 3V9" fill="none"/><path d="M1272.6 6l2.6-3v6z" stroke="none"/>
<path d="M1284.5 3V11.5M1283 10.5H1293" fill="none"/><path d="M1284.5 2l1.6 2.2h-3.2zM1293.6 10.5l-2.2 1.6v-3.2zM1282.6 10.5l1.6 -1.3v2.6z" stroke="none"/><path d="M1287.4 3l4.6 3.2-4.6 3.2z" stroke="none"/>
<rect x="1299.5" y="2.5" width="3" height="9" fill="none"/><path d="M1301.5 6.6H1307" fill="none" stroke-width="1.4"/><path d="M1306 3.8l3.2 2.8-3.2 2.8z" stroke="none"/>
</g>
<g fill="#f2f2f2"><text x="1383" y="94.5">最高</text><text x="1383" y="120">最低</text><text x="1383" y="145.5">卖出</text><text x="1383" y="170.5">振幅</text></g>
<g fill="#e8b020"><text x="1383" y="227.5">0.0000</text><text x="1383" y="310">0.0000</text><text x="1383" y="590">0.0000</text></g>
<text x="1258" y="764" fill="#e8ecf6" style="font-size:31px;letter-spacing:1.9px">FX678</text>
</svg></body></html>
